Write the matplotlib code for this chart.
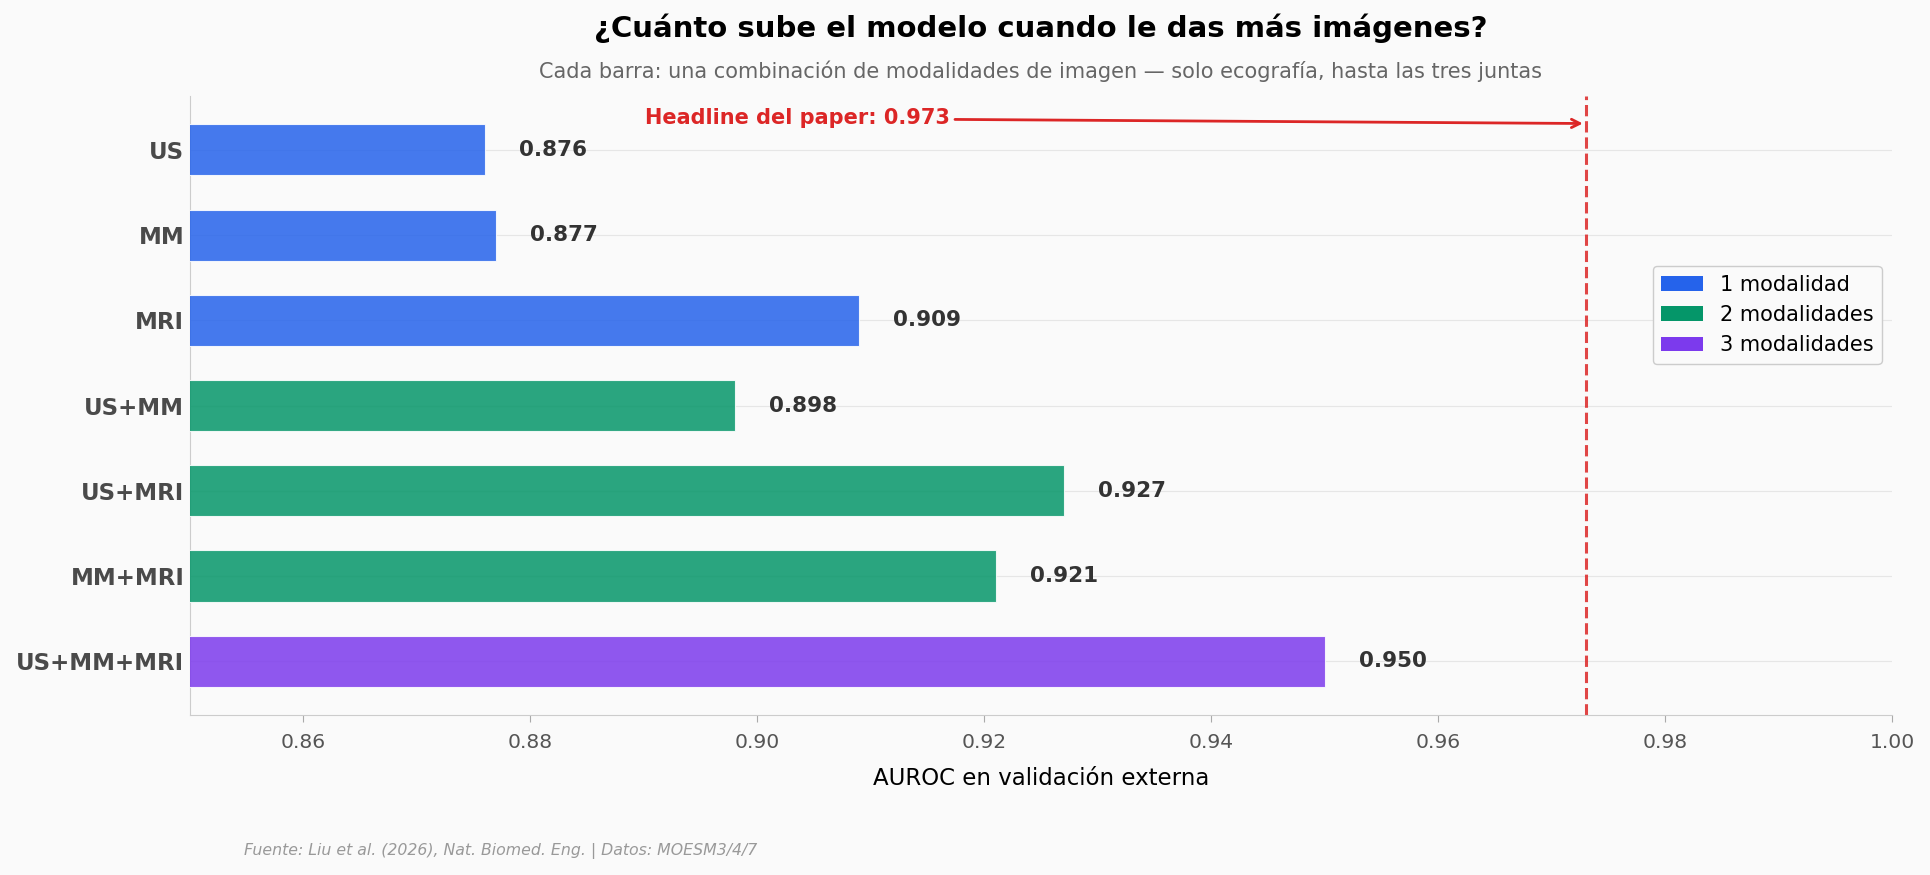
import numpy as np
import matplotlib
matplotlib.use("Agg")
import matplotlib.pyplot as plt
from matplotlib.patches import Patch

# data
labels = ["US", "MM", "MRI", "US+MM", "US+MRI", "MM+MRI", "US+MM+MRI"]
auroc = [0.876, 0.877, 0.909, 0.898, 0.927, 0.921, 0.950]
n_mod = [1, 1, 1, 2, 2, 2, 3]
headline = 0.973

colors = {1: "#2563eb", 2: "#059669", 3: "#7c3aed"}
legend_names = {1: "1 modalidad", 2: "2 modalidades", 3: "3 modalidades"}
bg = "#fafafa"

fig, ax = plt.subplots(figsize=(19.3, 8.75), dpi=100)
fig.patch.set_facecolor(bg)
ax.set_facecolor(bg)
fig.subplots_adjust(left=0.0984, right=0.9803, top=0.89, bottom=0.183)

y = np.arange(len(labels))
bar_cols = [colors[n] for n in n_mod]
ax.barh(y, auroc, height=0.6, color=bar_cols, alpha=0.85,
        edgecolor="white", linewidth=0.8, zorder=3)

for yi, v in zip(y, auroc):
    ax.text(v + 0.003, yi, f"{v:.3f}", va="center", ha="left",
            fontsize=15.5, fontweight="bold", color="#333333", zorder=4)

ax.axvline(headline, color="#dc2626", linestyle="--", linewidth=2.2, alpha=0.85, zorder=2)
ax.annotate(f"Headline del paper: {headline:.3f}",
            xy=(headline, -0.31), xytext=(0.9035, -0.37),
            ha="center", va="center", fontsize=15, fontweight="bold",
            color="#dc2626",
            arrowprops=dict(arrowstyle="->", color="#dc2626", lw=2))

ax.set_xlim(0.85, 1.0)
ax.set_ylim(6.63, -0.63)
ax.set_yticks(y)
ax.set_yticklabels(labels, fontsize=16.5, fontweight="bold", color="#4a4a4a")
ax.set_xticks(np.arange(0.86, 1.001, 0.02))
ax.set_xticklabels([f"{t:.2f}" for t in np.arange(0.86, 1.001, 0.02)])
ax.tick_params(axis="x", labelsize=14.6, colors="#555555", length=5, color="#aaaaaa", pad=8)
ax.tick_params(axis="y", length=0, pad=4)
ax.set_xlabel("AUROC en validación externa", fontsize=16.5, labelpad=11)

ax.grid(axis="y", color="#e6e6e6", linewidth=0.8, zorder=0)
ax.set_axisbelow(True)
for s in ["top", "right"]:
    ax.spines[s].set_visible(False)
for s in ["left", "bottom"]:
    ax.spines[s].set_color("#cccccc")

handles = [Patch(facecolor=colors[k], label=legend_names[k]) for k in [1, 2, 3]]
ax.legend(handles=handles, loc="upper right", bbox_to_anchor=(1.0, 0.742),
          fontsize=15, frameon=True, facecolor=bg, edgecolor="#cccccc",
          framealpha=1.0)

cx = (0.0984 + 0.9803) / 2
fig.text(cx, 0.968, "¿Cuánto sube el modelo cuando le das más imágenes?",
         ha="center", va="center", fontsize=21, fontweight="bold", color="black")
fig.text(cx, 0.918, "Cada barra: una combinación de modalidades de imagen — solo ecografía, hasta las tres juntas",
         ha="center", va="center", fontsize=15, color="#666666")
fig.text(0.1265, 0.027, "Fuente: Liu et al. (2026), Nat. Biomed. Eng. | Datos: MOESM3/4/7",
         ha="left", va="center", fontsize=11.3, style="italic", color="#999999")

fig.savefig("out.png", dpi=100, facecolor=bg)
